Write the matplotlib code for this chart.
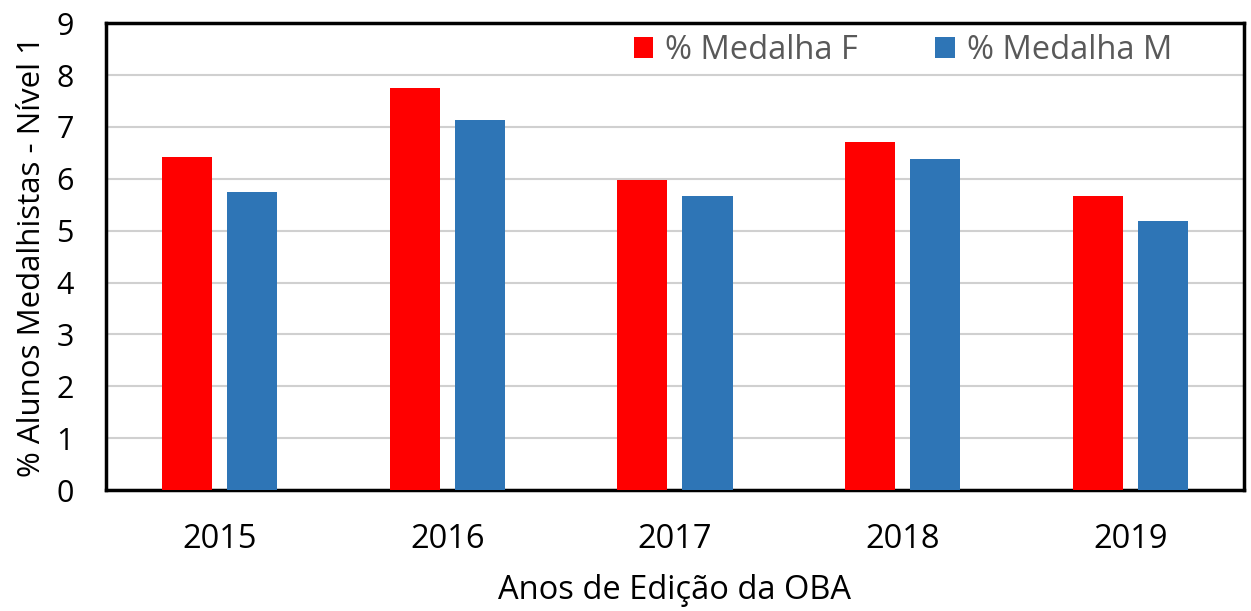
import numpy as np
import matplotlib
matplotlib.use('Agg')
import matplotlib.pyplot as plt

# Dados
anos = ['2015', '2016', '2017', '2018', '2019']
medalha_f = [6.43, 7.76, 5.97, 6.71, 5.66]
medalha_m = [5.75, 7.14, 5.66, 6.38, 5.19]

plt.rcParams['font.family'] = ['Open Sans', 'DejaVu Sans']

fig = plt.figure(figsize=(12.51, 6.11), dpi=100)
ax = fig.add_axes([0.0847, 0.198, 0.9097, 0.764])

x = np.arange(len(anos))
largura = 0.22
ax.bar(x - 0.143, medalha_f, largura, color='#ff0000', label='% Medalha F', zorder=3)
ax.bar(x + 0.143, medalha_m, largura, color='#2e75b6', label='% Medalha M', zorder=3)

ax.set_xlim(-0.5, len(anos) - 0.5)
ax.set_ylim(0, 9)
ax.set_yticks(range(0, 10))
ax.set_xticks(x)
ax.set_xticklabels(anos)
ax.tick_params(axis='both', length=0)
ax.tick_params(axis='y', labelsize=22, pad=23)
ax.tick_params(axis='x', labelsize=23.5, pad=24)
ax.grid(axis='y', color='#d0d0d0', linewidth=1.5, zorder=0)

for s in ax.spines.values():
    s.set_linewidth(2.5)
    s.set_color('black')

ax.set_ylabel('% Alunos Medalhistas - Nível 1', fontsize=22.5, labelpad=7)
ax.set_xlabel('Anos de Edição da OBA', fontsize=23.5, labelpad=13)

leg = ax.legend(loc='upper right', ncol=2, frameon=False, fontsize=23.5,
                handlelength=0.61, handleheight=0.61, handletextpad=0.37,
                columnspacing=2.36, bbox_to_anchor=(0.963, 1.04))
for t in leg.get_texts():
    t.set_color('#595959')

fig.savefig('out.png', dpi=100)
